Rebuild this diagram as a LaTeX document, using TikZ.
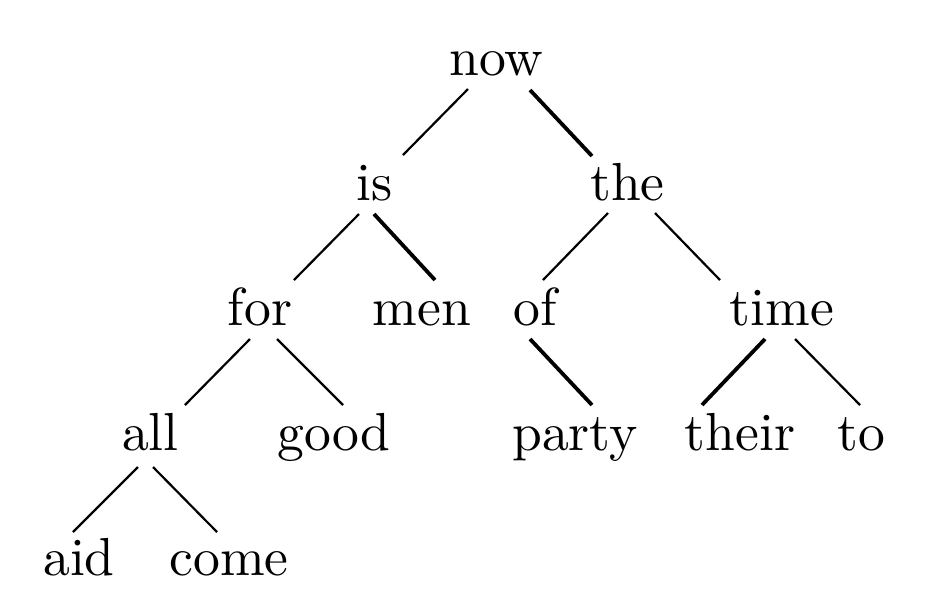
\documentclass[tikz,border=0pt]{standalone}
\font\treewordfont="[lmroman10-regular.otf]" at 13.4pt
\begin{document}
\begin{tikzpicture}[x=0.25pt,y=-0.25pt,
  word/.style={anchor=base,inner sep=0pt,font=\treewordfont},
  thinedge/.style={line width=0.55pt},
  thickedge/.style={line width=0.95pt}]
\useasboundingbox (0,0) rectangle (944,614);
\node[word] (now)   at (496.5,75) {now};
\node[word] (is)    at (375,200) {is};
\node[word] (the)   at (627.5,200) {the};
\node[word] (for)   at (260,325) {for};
\node[word] (men)   at (422,325) {men};
\node[word] (of)    at (535,325) {of};
\node[word] (time)  at (782,325) {time};
\node[word] (all)   at (150.5,450) {all};
\node[word] (good)  at (334,450) {good};
\node[word] (party) at (575,450) {party};
\node[word] (their) at (740,450) {their};
\node[word] (to)    at (861,450) {to};
\node[word] (aid)   at (79,575) {aid};
\node[word] (come)  at (229,575) {come};
\draw[thinedge]  ([shift={(-28.5,14)}]now.base) -- ([shift={(28,-45)}]is.base);
\draw[thickedge] ([shift={(33.5,15)}]now.base) -- ([shift={(-35.5,-44)}]the.base);
\draw[thinedge]  ([shift={(-16,14)}]is.base) -- ([shift={(34,-45)}]for.base);
\draw[thickedge] ([shift={(-1,14)}]is.base) -- ([shift={(13,-45)}]men.base);
\draw[thinedge]  ([shift={(-19.5,13)}]the.base) -- ([shift={(8,-45)}]of.base);
\draw[thinedge]  ([shift={(27.5,13)}]the.base) -- ([shift={(-62,-45)}]time.base);
\draw[thinedge]  ([shift={(-10,14)}]for.base) -- ([shift={(34.5,-45)}]all.base);
\draw[thinedge]  ([shift={(17,14)}]for.base) -- ([shift={(9,-45)}]good.base);
\draw[thickedge] ([shift={(-5,14)}]of.base) -- ([shift={(17,-45)}]party.base);
\draw[thickedge] ([shift={(-17,14)}]time.base) -- ([shift={(-38,-45)}]their.base);
\draw[thinedge]  ([shift={(13,14)}]time.base) -- ([shift={(-1,-45)}]to.base);
\draw[thinedge]  ([shift={(-12.5,17)}]all.base) -- ([shift={(-6,-43)}]aid.base);
\draw[thinedge]  ([shift={(2.5,17)}]all.base) -- ([shift={(-12,-43)}]come.base);
\end{tikzpicture}
\end{document}
